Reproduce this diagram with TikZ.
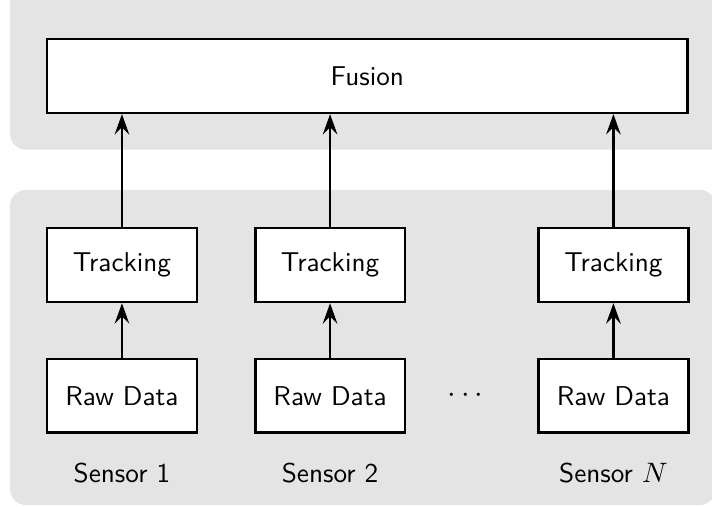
\documentclass[tikz,border=0pt]{standalone}
\usepackage{amsmath}
\usepackage{amssymb}
\usepackage{tikz}
\usetikzlibrary{arrows.meta}
\definecolor{panelgray}{RGB}{228,228,228}

\begin{document}
\begin{tikzpicture}[font=\fontsize{10.6pt}{12.5pt}\sffamily,
  box/.style={draw,line width=0.35mm,fill=white,minimum width=2.05cm,minimum height=1.01cm,inner sep=0pt},
  up/.style={-{Stealth[length=2.8mm,width=2mm,inset=1mm]},line width=0.3mm}]
\useasboundingbox (0,0) rectangle (9.75,6.93);
% panels
\fill[panelgray,rounded corners=0.22cm] (0.137,4.88) rectangle (10.2,7.2);
\fill[panelgray,rounded corners=0.22cm] (0.137,0.014) rectangle (9.8,4.33);
\node[box,minimum width=8.77cm] (fusion) at (5.03,5.89) {Fusion};
\node[box] (track1) at (1.67,3.30) {Tracking};
\node[box] (track2) at (4.52,3.30) {Tracking};
\node[box] (track3) at (8.40,3.30) {Tracking};
\node[box] (raw1) at (1.67,1.51) {Raw Data};
\node[box] (raw2) at (4.52,1.51) {Raw Data};
\node[box] (raw3) at (8.40,1.51) {Raw Data};
\node[font=\fontsize{12pt}{14pt}\selectfont] (dots) at (6.41,1.51) {$\cdots$};
\node (sensor1) at (1.67,0.45) {Sensor 1};
\node (sensor2) at (4.52,0.45) {Sensor 2};
\node (sensor3) at (8.40,0.45) {Sensor $N$};
\draw[up] (raw1) -- (track1);
\draw[up] (raw2) -- (track2);
\draw[up] (raw3) -- (track3);
\draw[up] (track1) -- (track1 |- fusion.south);
\draw[up] (track2) -- (track2 |- fusion.south);
\draw[up] (track3) -- (track3 |- fusion.south);

\end{tikzpicture}
\end{document}
